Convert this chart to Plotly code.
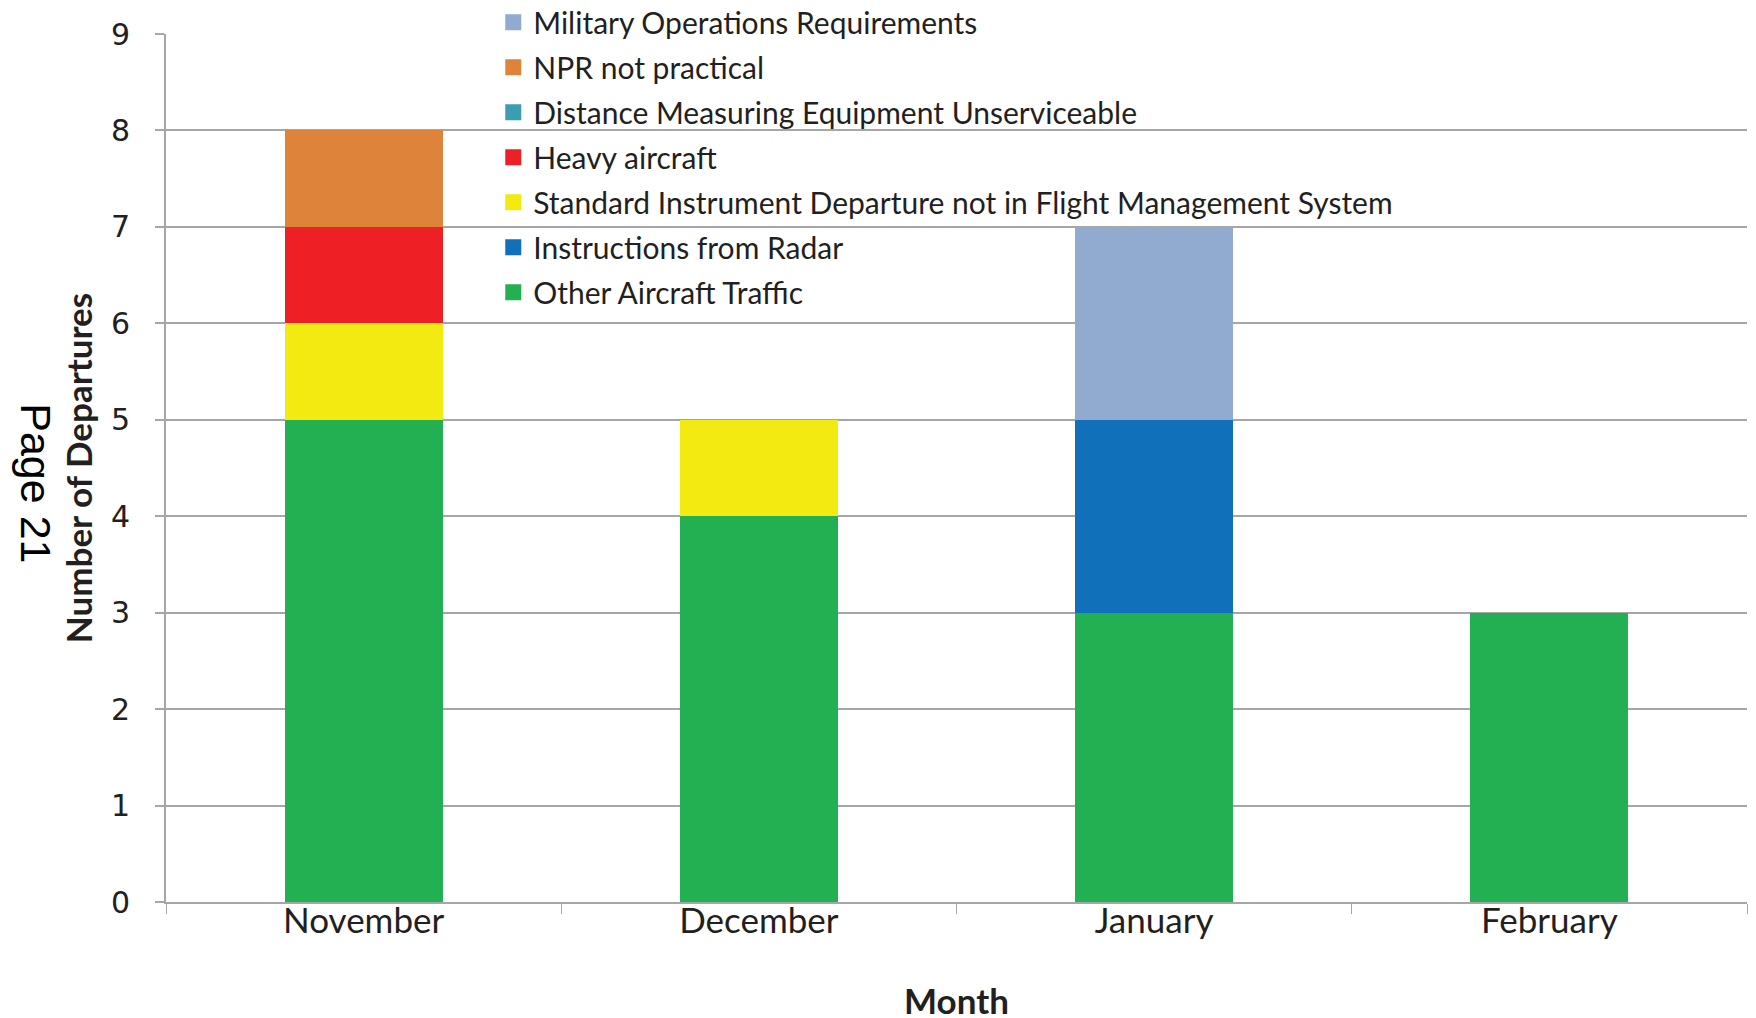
import plotly.graph_objects as go

months = ["November", "December", "January", "February"]
series_names = [
    "Other Aircraft Traffic",
    "Instructions from Radar",
    "Standard Instrument Departure not in Flight Management System",
    "Heavy aircraft",
    "Distance Measuring Equipment Unserviceable",
    "NPR not practical",
    "Military Operations Requirements",
]
other_traffic = [5, 4, 3, 3]
radar = [0, 0, 2, 0]
sid_not_fms = [1, 1, 0, 0]
heavy = [1, 0, 0, 0]
dme = [0, 0, 0, 0]
npr = [1, 0, 0, 0]
military = [0, 0, 2, 0]
series_values = [other_traffic, radar, sid_not_fms, heavy, dme, npr, military]
colors = ["#23B052", "#1170BA", "#F2EA10", "#EE1F25", "#3A9DB0", "#DE833A", "#91AAD0"]
y_ticks = [0, 1, 2, 3, 4, 5, 6, 7, 8, 9]

TXT = "#231F20"
GRID = "#A6A6A8"

fig = go.Figure()
n = len(series_names)
for i, (name, vals, col) in enumerate(zip(series_names, series_values, colors)):
    fig.add_trace(go.Bar(
        x=months, y=vals, name=name, legendgroup=name, showlegend=False,
        marker=dict(color=col, line=dict(width=0)),
    ))
    # legend key (larger square swatch, like the reference)
    fig.add_trace(go.Scatter(
        x=[None], y=[None], mode="markers", name=name, legendgroup=name,
        legendrank=n - i, showlegend=True, hoverinfo="skip",
        marker=dict(symbol="square", size=17, color=col, line=dict(width=0)),
    ))

fig.update_layout(
    barmode="stack",
    bargap=0.6,
    width=1756, height=1018,
    margin=dict(l=158, r=17, t=26, b=124, autoexpand=False),
    plot_bgcolor="white", paper_bgcolor="white",
    font=dict(family="Lato", color=TXT),
    legend=dict(
        x=0.207, y=1.0435, xref="paper", yref="paper", xanchor="left", yanchor="top",
        traceorder="grouped", tracegroupgap=3, itemsizing="trace",
        font=dict(family="Lato", size=30, color=TXT),
        bgcolor="rgba(0,0,0,0)",
    ),
    xaxis=dict(
        automargin=False,
        showline=True, linecolor=GRID, linewidth=2,
        ticks="outside", tickson="boundaries", ticklen=10, tickcolor=GRID, tickwidth=1,
        tickfont=dict(family="Lato", size=35, color=TXT),
        ticklabelstandoff=-13,
        title=dict(text="<b>Month</b>", font=dict(family="Lato", size=35, color=TXT), standoff=50),
    ),
    yaxis=dict(
        automargin=False,
        range=[0, 9], tickvals=y_ticks,
        showgrid=True, gridcolor=GRID, gridwidth=2,
        showline=True, linecolor=GRID, linewidth=2,
        ticks="outside", ticklen=9, tickcolor=GRID, tickwidth=2,
        tickfont=dict(family="DejaVu Sans", size=30, color=TXT),
        ticklabelstandoff=19,
        title=dict(text="<b>Number of Departures</b>", font=dict(family="Lato", size=35, color=TXT), standoff=8),
        zeroline=False,
    ),
    showlegend=True,
)

fig.add_annotation(
    text="Page 21", textangle=90, xref="paper", yref="paper",
    x=-0.082, y=0.482, xanchor="center", yanchor="middle", showarrow=False,
    font=dict(family="Liberation Sans", size=43, color="black"),
)

fig.write_html("out.html")
